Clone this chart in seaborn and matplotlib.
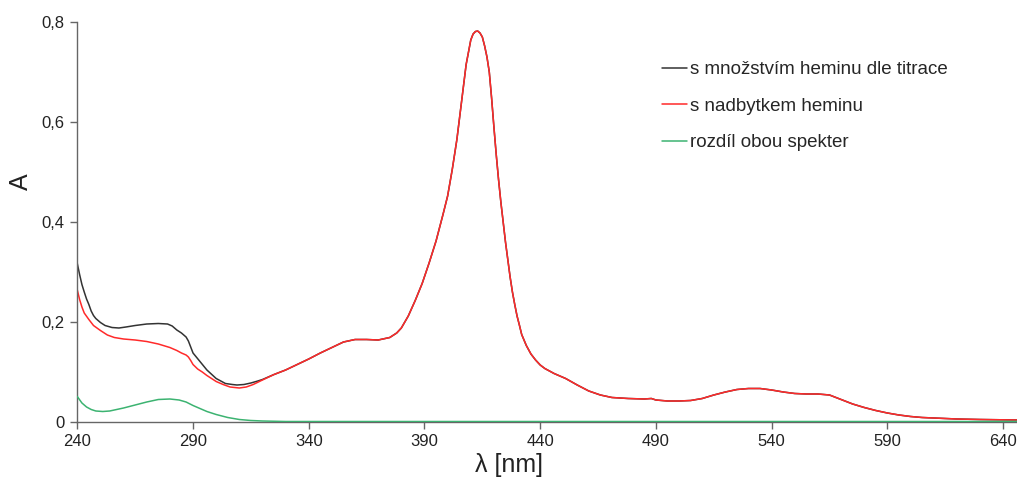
import matplotlib
matplotlib.use("Agg")
import matplotlib.pyplot as plt
import seaborn as sns
import pandas as pd

# ---- data ----
common_wl = [325, 330, 335, 340, 345, 350, 355, 360, 365, 370, 375, 378, 380, 383, 386, 389,
             392, 395, 398, 400, 402, 404, 406, 408, 410, 411, 412, 413, 414, 415, 416, 417,
             418, 419, 420, 421, 422, 423, 424, 425, 426, 427, 428, 429, 430, 431, 432, 434,
             436, 438, 440, 442, 446, 451, 456, 461, 466, 471, 478, 485, 488, 490, 495, 500,
             505, 510, 515, 520, 525, 530, 535, 540, 545, 550, 555, 560, 565, 570, 575, 580,
             585, 590, 595, 600, 605, 610, 620, 630, 646]
common_a = [0.095, 0.104, 0.115, 0.126, 0.138, 0.149, 0.160, 0.165, 0.165, 0.164, 0.169, 0.178,
            0.188, 0.212, 0.243, 0.277, 0.318, 0.362, 0.415, 0.452, 0.505, 0.565, 0.640, 0.715,
            0.764, 0.776, 0.781, 0.782, 0.778, 0.770, 0.752, 0.730, 0.700, 0.648, 0.590, 0.535,
            0.485, 0.440, 0.400, 0.360, 0.325, 0.290, 0.260, 0.235, 0.212, 0.194, 0.175, 0.153,
            0.136, 0.124, 0.114, 0.107, 0.097, 0.087, 0.074, 0.062, 0.054, 0.049, 0.047, 0.046,
            0.047, 0.044, 0.042, 0.042, 0.043, 0.047, 0.054, 0.060, 0.065, 0.067, 0.067, 0.064,
            0.060, 0.057, 0.056, 0.056, 0.054, 0.045, 0.036, 0.029, 0.023, 0.018, 0.014, 0.011,
            0.009, 0.008, 0.006, 0.005, 0.004]

black_wl_start = [240, 241, 242, 243, 244, 245, 246, 247, 248, 250, 252, 255, 258, 261, 265, 270,
                  275, 279, 281, 283, 285, 287, 288, 290, 293, 296, 300, 304, 307, 309, 312, 315,
                  318, 320]
black_a_start = [0.317, 0.295, 0.275, 0.260, 0.246, 0.235, 0.222, 0.213, 0.207, 0.199, 0.193,
                 0.189, 0.188, 0.190, 0.193, 0.196, 0.197, 0.196, 0.192, 0.184, 0.178, 0.170,
                 0.162, 0.138, 0.121, 0.104, 0.087, 0.077, 0.075, 0.074, 0.075, 0.078, 0.082,
                 0.085]

red_wl_start = [240, 241, 242, 243, 245, 247, 250, 253, 256, 260, 265, 270, 275, 280, 283, 285,
                287, 288, 289, 290, 292, 294, 296, 298, 300, 303, 306, 310, 313, 316, 320]
red_a_start = [0.264, 0.245, 0.230, 0.218, 0.205, 0.193, 0.183, 0.174, 0.169, 0.166, 0.164,
               0.161, 0.156, 0.149, 0.143, 0.138, 0.134, 0.130, 0.123, 0.115, 0.106, 0.100,
               0.093, 0.087, 0.081, 0.075, 0.070, 0.068, 0.070, 0.075, 0.084]

green_wl = [240, 242, 244, 246, 248, 251, 254, 257, 260, 265, 270, 275, 280, 284, 287, 290, 293,
            296, 300, 305, 310, 315, 320, 330, 400, 500, 646]
green_a = [0.051, 0.038, 0.030, 0.025, 0.022, 0.021, 0.022, 0.025, 0.028, 0.034, 0.040, 0.045,
           0.046, 0.044, 0.040, 0.033, 0.027, 0.021, 0.015, 0.009, 0.005, 0.003, 0.002, 0.001,
           0.001, 0.001, 0.001]

labels = ["s množstvím heminu dle titrace", "s nadbytkem heminu", "rozdíl obou spekter"]
x_ticks = [240, 290, 340, 390, 440, 490, 540, 590, 640]
y_ticks = [0, 0.2, 0.4, 0.6, 0.8]
y_ticklabels = ["0", "0,2", "0,4", "0,6", "0,8"]

black_df = pd.DataFrame({"wl": black_wl_start + common_wl, "A": black_a_start + common_a})
red_df = pd.DataFrame({"wl": red_wl_start + common_wl, "A": red_a_start + common_a})
green_df = pd.DataFrame({"wl": green_wl, "A": green_a})

sns.set_style("white")
plt.rcParams["font.family"] = ["Liberation Sans", "DejaVu Sans"]

fig = plt.figure(figsize=(10.17, 4.79), dpi=100)
ax = fig.add_axes([0.076, 0.119, 0.924, 0.835])

sns.lineplot(data=black_df, x="wl", y="A", ax=ax, color="#333333", lw=1.1,
             label=labels[0], errorbar=None, sort=False)
sns.lineplot(data=red_df, x="wl", y="A", ax=ax, color="#ff2a2a", lw=1.1,
             label=labels[1], errorbar=None, sort=False)
sns.lineplot(data=green_df, x="wl", y="A", ax=ax, color="#3cb371", lw=1.1,
             label=labels[2], errorbar=None, sort=False, zorder=3)

ax.set_xlim(240, 646)
ax.set_ylim(0, 0.8)
ax.set_xticks(x_ticks)
ax.set_xticklabels([str(t) for t in x_ticks])
ax.set_yticks(y_ticks)
ax.set_yticklabels(y_ticklabels)

for s in ["top", "right"]:
    ax.spines[s].set_visible(False)
for s in ["left", "bottom"]:
    ax.spines[s].set_color("#666666")
    ax.spines[s].set_linewidth(1.0)
ax.tick_params(axis="both", direction="out", length=5, width=1, color="#666666",
               labelsize=12, labelcolor="#222222", left=True, bottom=True, pad=4)

ax.set_xlabel("λ [nm]", fontsize=18, color="#222222")
ax.set_ylabel("A", fontsize=18, color="#222222")
ax.xaxis.set_label_coords(0.459, -0.078)
ax.yaxis.set_label_coords(-0.047, 0.6)

leg = ax.legend(loc="upper left", bbox_to_anchor=(0.622, 0.902), frameon=False,
                fontsize=13.5, handlelength=1.33, handletextpad=0.16, labelspacing=1.03,
                borderpad=0, borderaxespad=0)
for line in leg.get_lines():
    line.set_linewidth(1.1)

fig.savefig("out.png", dpi=100)
